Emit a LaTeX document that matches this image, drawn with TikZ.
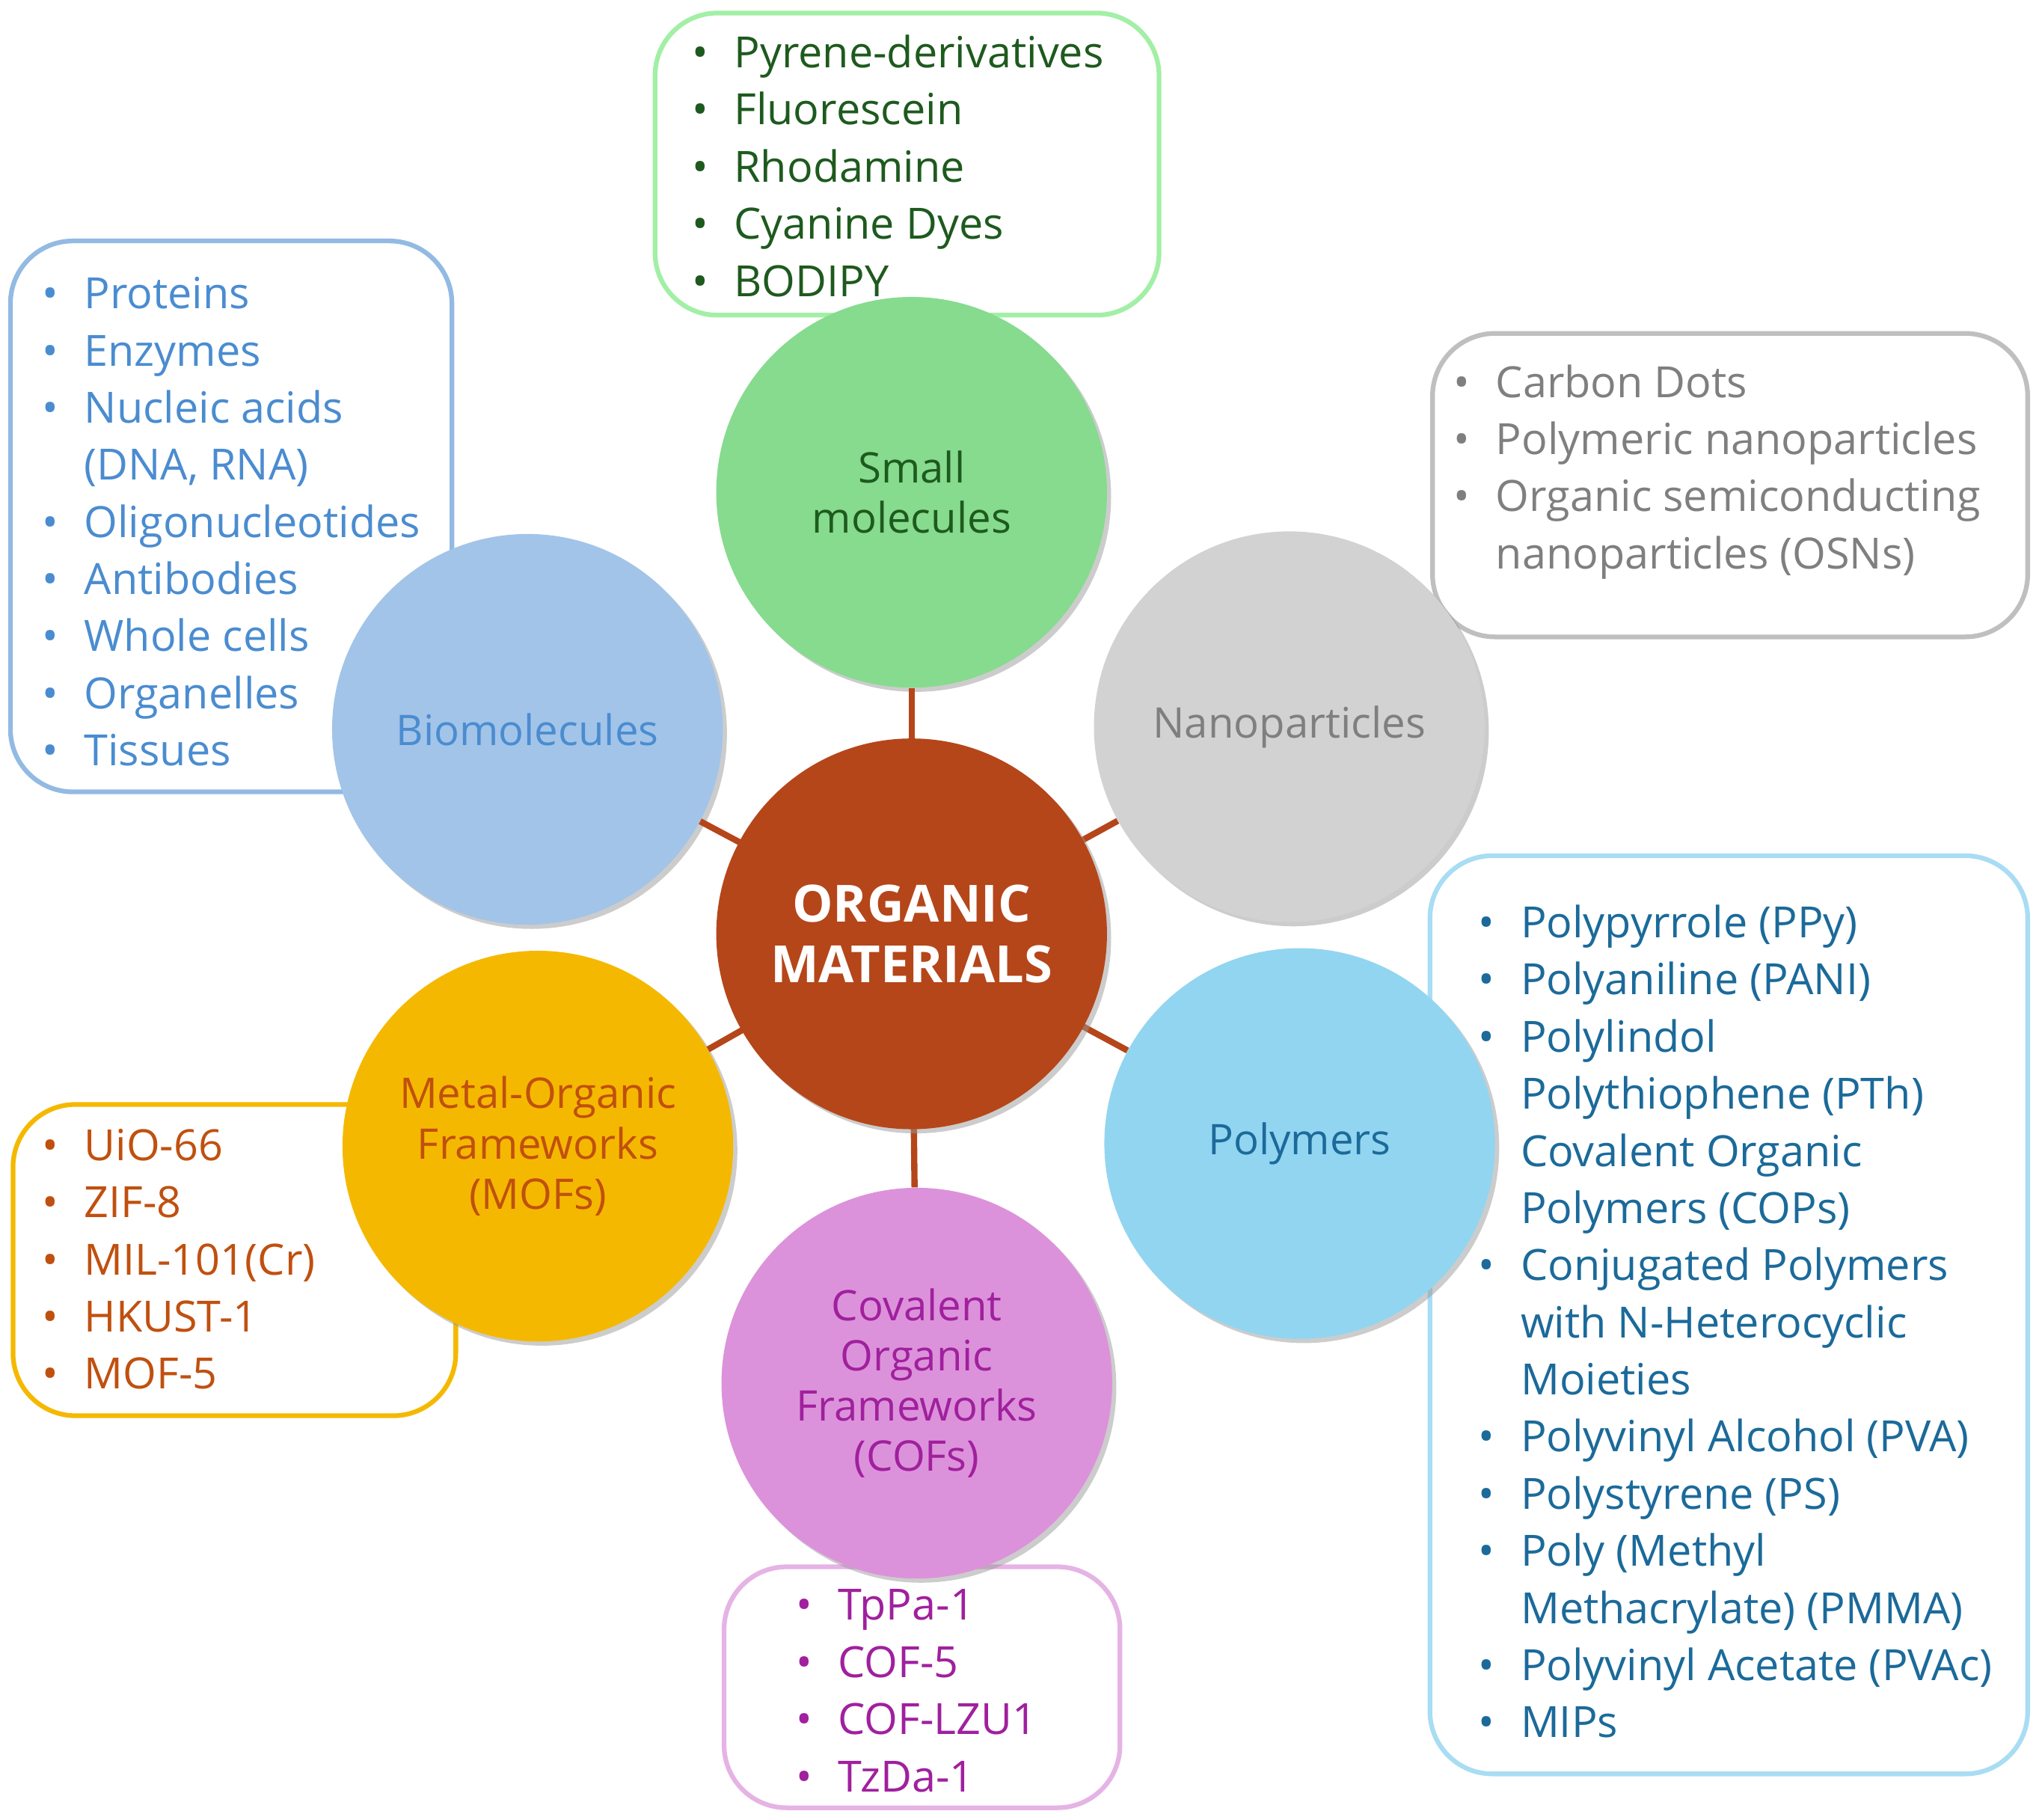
\documentclass[tikz,border=0pt]{standalone}
\usepackage{fontspec}
\setmainfont{Open Sans}
\usetikzlibrary{shadows}
\definecolor{cOrg}{HTML}{B5461A}
\definecolor{cGreen}{HTML}{86DB8E}
\definecolor{cGrey}{HTML}{D2D2D2}
\definecolor{cPoly}{HTML}{92D5F0}
\definecolor{cPink}{HTML}{DC92DA}
\definecolor{cYel}{HTML}{F5B800}
\definecolor{cBlue}{HTML}{A2C4E8}
\definecolor{tGreen}{HTML}{1E5A1E}
\definecolor{tBlue}{HTML}{4A8CD0}
\definecolor{tGrey}{HTML}{7F7F7F}
\definecolor{tPoly}{HTML}{1B6A9A}
\definecolor{tOrg}{HTML}{C0500F}
\definecolor{tPur}{HTML}{A0209E}
\newcommand{\lst}[1]{\begin{tabular}[t]{@{}l@{\hspace{5mm}}l@{}}#1\end{tabular}}
\begin{document}
\begin{tikzpicture}[x=0.25mm,y=-0.25mm,
  box/.style={rounded corners=12mm,line width=0.9mm},
  ball/.style={circle,minimum size=75mm,inner sep=0pt,align=center,
    font=\fontsize{23}{27.5}\selectfont,drop shadow={shadow xshift=0.8mm,shadow yshift=-0.8mm,fill=black!40}},
  lst/.style={anchor=base west,inner sep=0pt,font=\fontsize{23.5}{31.2}\selectfont},
  con/.style={cOrg,line width=1.2mm}]
\useasboundingbox (0,0) rectangle (1568,1397);
% boxes
\draw[box,draw=green!25!cGreen!60] (503,10) rectangle (890,242);
\draw[box,draw=tBlue!60] (8,185) rectangle (347,608);
\draw[box,draw=black!25] (1100,256) rectangle (1557,489);
\draw[box,draw=cPoly!80] (1098,657) rectangle (1557,1362);
\draw[box,draw=cYel] (10,848) rectangle (350,1087);
\draw[box,draw=cPink!70] (556,1203) rectangle (860,1388);
% lists
\node[lst,text=tGreen] (lg) at (531,52) {\lst{• & Pyrene-derivatives\\ • & Fluorescein\\ • & Rhodamine\\ • & Cyanine Dyes\\ • & BODIPY}};
\node[lst,text=tBlue] (lb) at (32,237) {\lst{• & Proteins\\ • & Enzymes\\ • & Nucleic acids\\ & (DNA, RNA)\\ • & Oligonucleotides\\ • & Antibodies\\ • & Whole cells\\ • & Organelles\\ • & Tissues}};
\node[lst,text=tGrey] (lgr) at (1116,305) {\lst{• & Carbon Dots\\ • & Polymeric nanoparticles\\ • & Organic semiconducting\\ & nanoparticles (OSNs)}};
\node[lst,text=tPoly] (lp) at (1135,720) {\lst{• & Polypyrrole (PPy)\\ • & Polyaniline (PANI)\\ • & Polylindol\\ & Polythiophene (PTh)\\ & Covalent Organic\\ & Polymers (COPs)\\ • & Conjugated Polymers\\ & with N-Heterocyclic\\ & Moieties\\ • & Polyvinyl Alcohol (PVA)\\ • & Polystyrene (PS)\\ • & Poly (Methyl\\ & Methacrylate) (PMMA)\\ • & Polyvinyl Acetate (PVAc)\\ • & MIPs}};
\node[lst,text=tOrg] (lm) at (32,891) {\lst{• & UiO-66\\ • & ZIF-8\\ • & MIL-101(Cr)\\ • & HKUST-1\\ • & MOF-5}};
\node[lst,text=tPur] (lc) at (611,1244) {\lst{• & TpPa-1\\ • & COF-5\\ • & COF-LZU1\\ • & TzDa-1}};
% circles
\coordinate (C) at (700,717);
\node[ball,fill=cGreen,text=tGreen] (sm) at (700,378) {Small\\molecules};
\node[ball,fill=cGrey,text=tGrey] (np) at (990,558) {Nanoparticles};
\node[ball,fill=cPoly,text=tPoly] (po) at (998,878) {Polymers};
\node[ball,fill=cPink,text=tPur] (co) at (704,1062) {Covalent\\Organic\\Frameworks\\(COFs)};
\node[ball,fill=cYel,text=tOrg] (mo) at (413,880) {Metal-Organic\\Frameworks\\(MOFs)};
\node[ball,fill=cBlue,text=tBlue] (bi) at (405,560) {Biomolecules};
\foreach \n in {sm,np,po,co,mo,bi} \draw[con] (C) -- (\n);
\node[ball,fill=cOrg,text=white,font=\bfseries\fontsize{28}{33}\selectfont] (om) at (C) {ORGANIC\\MATERIALS};
\end{tikzpicture}
\end{document}
